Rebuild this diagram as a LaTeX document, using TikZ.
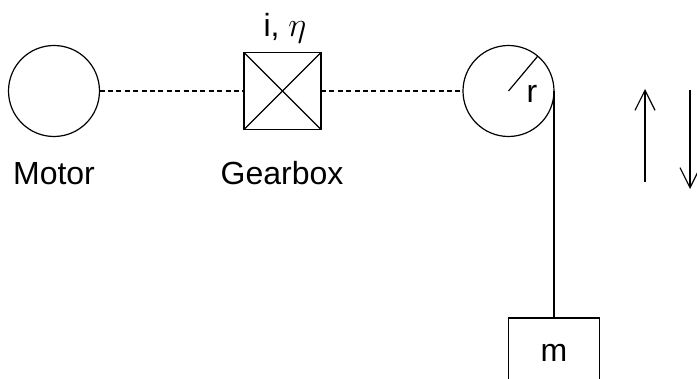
\documentclass[tikz,border=0pt]{standalone}
\usepackage{fontspec}
\setmainfont{Liberation Sans}
\usetikzlibrary{arrows.meta}
\newcommand{\RatioEff}{i, {\fontsize{19}{20}\selectfont$\eta$}}

\begin{document}
\begin{tikzpicture}[x=0.5pt,y=-0.5pt,line width=0.6pt,
  font=\fontsize{16}{19}\selectfont,
  wheel/.style={circle,draw,minimum size=45.5pt,inner sep=0pt,outer sep=0pt},
  gearbox/.style={rectangle,draw,minimum size=38.5pt,inner sep=0pt,outer sep=0pt},
  shaft/.style={dash pattern=on 2.5pt off 1.7pt,line width=0.55pt},
  motion/.style={-{Straight Barb[length=10pt,width=10pt]}}]
\useasboundingbox (0,0) rectangle (697,379);

\node[wheel] (motor) at (54,91) {};
\node[gearbox] (gear) at (282.5,91) {};
\node[wheel] (pulley) at (508.5,91) {};
\node[rectangle,draw,minimum width=45.5pt,minimum height=35pt,inner sep=0pt,outer sep=0pt] (mass) at (554,353) {m};

\node[anchor=base] (motor-label) at (54,185) {Motor};
\node[anchor=base] (gear-label) at (282,185) {Gearbox};
\node[anchor=base] (gear-ratio) at (285,37) {\RatioEff{}};
\node[anchor=base] (radius) at (532,103) {r};

\coordinate (up-start) at (645,182);
\coordinate (up-end) at (645,89);
\coordinate (down-start) at (690,90);
\coordinate (down-end) at (690,189);

\draw (gear.north west) -- (gear.south east);
\draw (gear.south west) -- (gear.north east);
\draw (pulley.center) -- (pulley.50);

\path[shaft] (motor) edge (gear);
\path[shaft] (gear) edge (pulley);
\draw (pulley.east) -- (mass.north);

\path[motion] (up-start) edge (up-end);
\path[motion] (down-start) edge (down-end);
\end{tikzpicture}
\end{document}
